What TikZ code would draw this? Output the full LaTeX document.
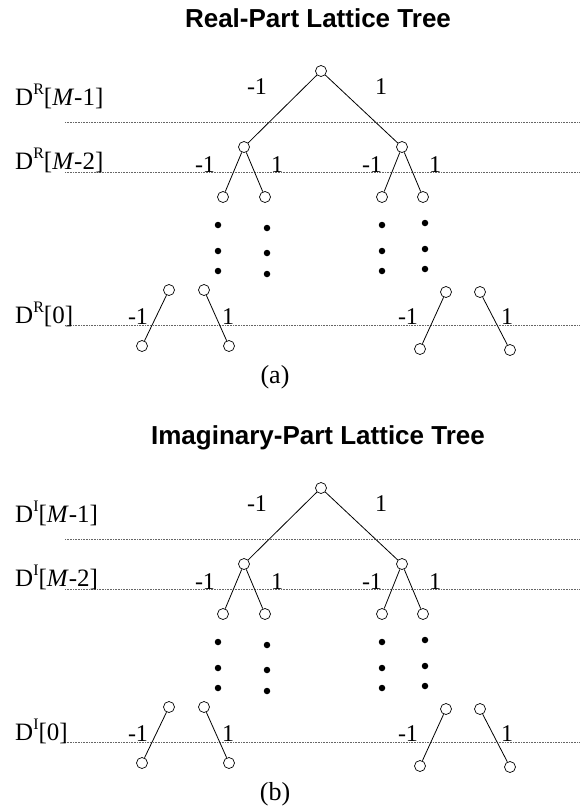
\documentclass[tikz,border=0pt]{standalone}
\usepackage{fontspec}
\setmainfont{Liberation Serif}
\newfontfamily\titlefont{Liberation Sans}

% raised letter after D in the level labels
\newcommand\levelsup[1]{\raisebox{11pt}{\fontsize{16}{16}\selectfont #1}}

\tikzset{
  vtx/.style={circle, draw, fill=white, inner sep=0pt, minimum size=11pt, line width=0.7pt},
  dotmark/.style={circle, fill=black, inner sep=0pt, minimum size=6.5pt},
  branch/.style={line width=0.8pt},
  levelline/.style={line width=0.6pt, black!60, dash pattern=on 0.7pt off 0.9pt},
  wlabel/.style={font=\fontsize{24}{24}\selectfont, inner sep=0pt, anchor=base},
  dlabel/.style={font=\fontsize{25}{25}\selectfont, inner sep=0pt, anchor=base west},
  ttl/.style={font=\titlefont\bfseries\fontsize{26}{26}\selectfont, inner sep=0pt, anchor=base},
  capt/.style={font=\fontsize{26}{26}\selectfont, inner sep=0pt, anchor=base},
}

% #1 name prefix, #2 vertical offset, #3 raised letter, #4 title, #5 caption
\newcommand\latticetree[5]{%
\begin{scope}[shift={(0,#2)}]
  \node[ttl] (#1title) at (318,27) {#4};
  % level lines
  \draw[levelline] (65,122) -- (580,122);
  \draw[levelline] (65,172) -- (580,172);
  \draw[levelline] (65,325) -- (580,325);
  % level names
  \node[dlabel] (#1d1) at (15,105) {D\levelsup{#3}[\textit{M}-1]};
  \node[dlabel] (#1d2) at (15,169) {D\levelsup{#3}[\textit{M}-2]};
  \node[dlabel] (#1d0) at (15,323) {D\levelsup{#3}[0]};
  % vertices
  \node[vtx] (#1root) at (321,71) {};
  \node[vtx] (#1a) at (244,147) {};
  \node[vtx] (#1b) at (402,147) {};
  \node[vtx] (#1aa) at (223,197) {};
  \node[vtx] (#1ab) at (265,197) {};
  \node[vtx] (#1ba) at (382,197) {};
  \node[vtx] (#1bb) at (423,197) {};
  \node[vtx] (#1p1t) at (169,290) {};
  \node[vtx] (#1p1b) at (142,346) {};
  \node[vtx] (#1p2t) at (204,290) {};
  \node[vtx] (#1p2b) at (229,346) {};
  \node[vtx] (#1p3t) at (446,292) {};
  \node[vtx] (#1p3b) at (420,349) {};
  \node[vtx] (#1p4t) at (480,292) {};
  \node[vtx] (#1p4b) at (510,350) {};
  % branches
  \draw[branch] (#1root) -- (#1a);
  \draw[branch] (#1root) -- (#1b);
  \draw[branch] (#1a) -- (#1aa);
  \draw[branch] (#1a) -- (#1ab);
  \draw[branch] (#1b) -- (#1ba);
  \draw[branch] (#1b) -- (#1bb);
  \draw[branch] (#1p1t) -- (#1p1b);
  \draw[branch] (#1p2t) -- (#1p2b);
  \draw[branch] (#1p3t) -- (#1p3b);
  \draw[branch] (#1p4t) -- (#1p4b);
  % branch weights
  \node[wlabel] (#1w1) at (257,94) {-1};
  \node[wlabel] (#1w2) at (381,94) {1};
  \node[wlabel] (#1w3) at (205,172) {-1};
  \node[wlabel] (#1w4) at (277,172) {1};
  \node[wlabel] (#1w5) at (372,172) {-1};
  \node[wlabel] (#1w6) at (435,172) {1};
  \node[wlabel] (#1w7) at (138,324) {-1};
  \node[wlabel] (#1w8) at (228,324) {1};
  \node[wlabel] (#1w9) at (408,324) {-1};
  \node[wlabel] (#1w10) at (507,324) {1};
  % omitted levels
  \node[dotmark] (#1c1a) at (218,225) {};
  \node[dotmark] (#1c1b) at (218,251) {};
  \node[dotmark] (#1c1c) at (218,271) {};
  \node[dotmark] (#1c2a) at (267,228) {};
  \node[dotmark] (#1c2b) at (267,253) {};
  \node[dotmark] (#1c2c) at (267,274) {};
  \node[dotmark] (#1c3a) at (382,225) {};
  \node[dotmark] (#1c3b) at (382,251) {};
  \node[dotmark] (#1c3c) at (382,271) {};
  \node[dotmark] (#1c4a) at (425,223) {};
  \node[dotmark] (#1c4b) at (425,249) {};
  \node[dotmark] (#1c4c) at (425,269) {};
  % caption
  \node[capt] (#1cap) at (275,383) {#5};
\end{scope}}

\begin{document}
\begin{tikzpicture}[x=1pt, y=-1pt]
  \useasboundingbox (0,0) rectangle (580,809);
  \latticetree{re}{0}{R}{Real-Part Lattice Tree}{(a)}
  \latticetree{im}{417}{I}{Imaginary-Part Lattice Tree}{(b)}
\end{tikzpicture}
\end{document}
